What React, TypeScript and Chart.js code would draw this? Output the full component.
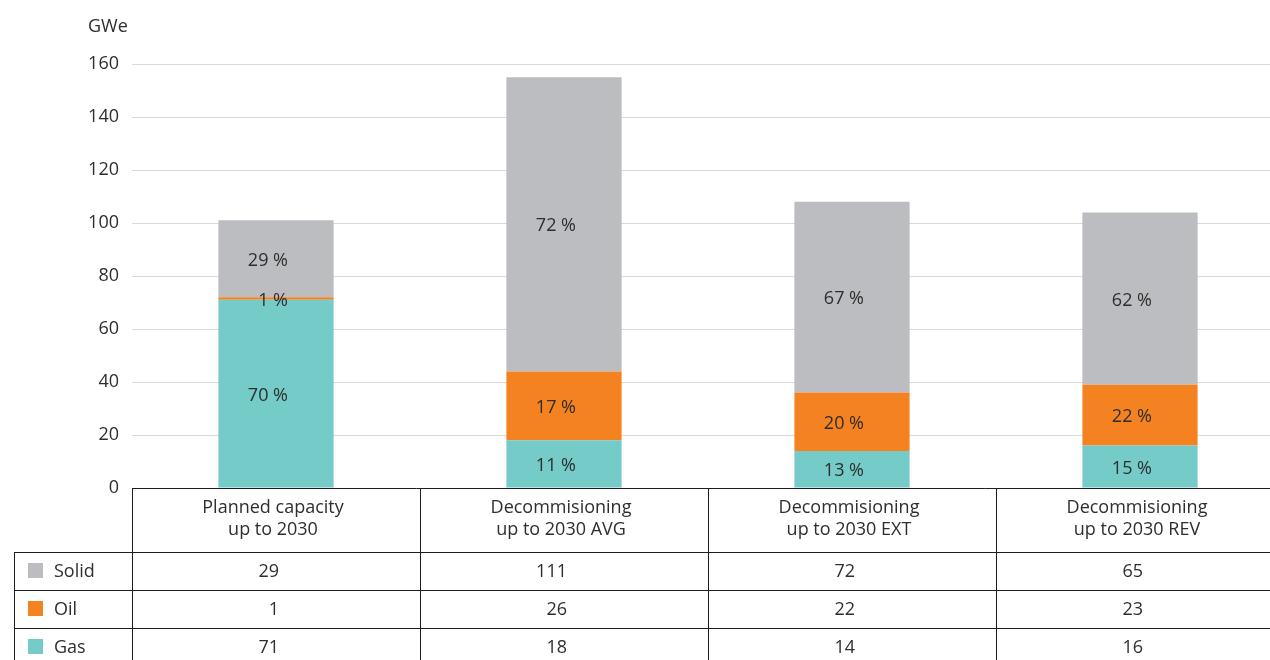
import React, { useEffect, useRef } from "react";
import { Chart, registerables } from "chart.js";

Chart.register(...registerables);

const categories: string[][] = [
  ["Planned capacity", "up to 2030"],
  ["Decommisioning", "up to 2030 AVG"],
  ["Decommisioning", "up to 2030 EXT"],
  ["Decommisioning", "up to 2030 REV"],
];
const seriesNames = ["Solid", "Oil", "Gas"];
const solidValues = [29, 111, 72, 65];
const oilValues = [1, 26, 22, 23];
const gasValues = [71, 18, 14, 16];
const solidPct = ["29 %", "72 %", "67 %", "62 %"];
const oilPct = ["1 %", "17 %", "20 %", "22 %"];
const gasPct = ["70 %", "11 %", "13 %", "15 %"];
const yTicks = [0, 20, 40, 60, 80, 100, 120, 140, 160];
const unitLabel = "GWe";

const COLORS = { Solid: "#bcbdc1", Oil: "#f58220", Gas: "#74cbc8" };
const FONT = "'Open Sans', 'Noto Sans', sans-serif";
const TEXT = "#2e2e2e";
const FS = 18;

const tablePlugin = {
  id: "tablePlugin",
  afterDraw(chart: any) {
    const ctx = chart.ctx as CanvasRenderingContext2D;
    const area = chart.chartArea;
    const W = 1270;
    const colW = (area.right - area.left) / categories.length;
    const top = area.bottom;
    const headerH = 64;
    const rowH = 38;
    const bottom = 660;
    ctx.save();

    // bar labels
    ctx.font = `${FS}px ${FONT}`;
    ctx.fillStyle = TEXT;
    ctx.textBaseline = "middle";
    ctx.textAlign = "right";
    const pctSets = [gasPct, oilPct, solidPct];
    chart.data.datasets.forEach((ds: any, di: number) => {
      const meta = chart.getDatasetMeta(di);
      meta.data.forEach((bar: any, i: number) => {
        const cy = (bar.y + bar.base) / 2;
        ctx.fillText(pctSets[di][i], bar.x + 12, cy + 2);
      });
    });

    // unit label
    ctx.textAlign = "left";
    ctx.fillText(unitLabel, 88, 27);

    // table lines
    ctx.strokeStyle = "#1e1e1e";
    ctx.lineWidth = 1;
    ctx.beginPath();
    ctx.moveTo(area.left, top + 0.5);
    ctx.lineTo(W, top + 0.5);
    for (let k = 0; k <= categories.length; k++) {
      const x = Math.round(area.left + k * colW) + 0.5;
      ctx.moveTo(x, top);
      ctx.lineTo(x, bottom);
    }
    for (let r = 0; r < seriesNames.length; r++) {
      const y = top + headerH + r * rowH + 0.5;
      ctx.moveTo(14, y);
      ctx.lineTo(W, y);
    }
    ctx.moveTo(14.5, top + headerH);
    ctx.lineTo(14.5, bottom);
    ctx.stroke();

    // header texts
    ctx.textAlign = "center";
    categories.forEach((lines, i) => {
      const cx = area.left + (i + 0.5) * colW;
      ctx.fillText(lines[0], cx - 3, top + 20);
      ctx.fillText(lines[1], cx - 3, top + 42);
    });

    // rows
    const rowValues = [solidValues, oilValues, gasValues];
    seriesNames.forEach((name, r) => {
      const cy = top + headerH + r * rowH + rowH / 2;
      ctx.fillStyle = (COLORS as any)[name];
      ctx.fillRect(28, cy - 8, 15, 15);
      ctx.fillStyle = TEXT;
      ctx.textAlign = "left";
      ctx.fillText(name, 54, cy + 1);
      ctx.textAlign = "right";
      rowValues[r].forEach((v, i) => {
        const cx = area.left + (i + 0.5) * colW;
        ctx.fillText(String(v), cx + 3, cy + 1);
      });
    });
    ctx.restore();
  },
};

export default function App() {
  const ref = useRef<HTMLCanvasElement | null>(null);
  useEffect(() => {
    if (!ref.current) return;
    const chart = new Chart(ref.current, {
      type: "bar",
      data: {
        labels: categories.map((c) => c.join(" ")),
        datasets: [
          { label: "Gas", data: gasValues, backgroundColor: COLORS.Gas },
          { label: "Oil", data: oilValues, backgroundColor: COLORS.Oil },
          { label: "Solid", data: solidValues, backgroundColor: COLORS.Solid },
        ],
      },
      options: {
        animation: false,
        responsive: false,
        maintainAspectRatio: false,
        layout: { padding: { top: 64, bottom: 172, left: 0, right: 6 } },
        plugins: { legend: { display: false }, tooltip: { enabled: false } },
        datasets: { bar: { barPercentage: 0.4, categoryPercentage: 1 } } as any,
        scales: {
          x: { stacked: true, display: false },
          y: {
            stacked: true,
            min: 0,
            max: 160,
            afterFit: (s: any) => {
              s.width = 132;
            },
            afterBuildTicks: (s: any) => {
              s.ticks = yTicks.map((v) => ({ value: v }));
            },
            border: { display: false },
            grid: { color: "#d9d9d9", lineWidth: 1, drawTicks: false },
            ticks: {
              padding: 13,
              color: TEXT,
              font: { family: FONT, size: FS },
            },
          },
        },
      },
      plugins: [tablePlugin],
    });
    return () => chart.destroy();
  }, []);
  return (
    <div style={{ position: "fixed", left: 0, top: 0, width: 1270, height: 660, overflow: "hidden", background: "#fff" }}>
      <canvas ref={ref} width={1290} height={660} style={{ width: 1290, height: 660, display: "block" }} />
    </div>
  );
}
